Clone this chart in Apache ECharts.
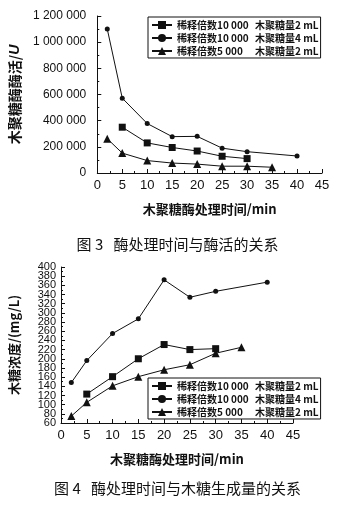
<!DOCTYPE html>
<html>
<head>
<meta charset="utf-8">
<script src="https://cdn.jsdelivr.net/npm/echarts@6/dist/echarts.min.js"></script>
<style>
html,body{margin:0;padding:0;background:#fff;}
#c{width:355px;height:506px;}
</style>
</head>
<body>
<div id="c"></div>
<script>
// ---- Data ----
var seriesNames = ['稀释倍数10 000 木聚糖量2 mL', '稀释倍数10 000 木聚糖量4 mL', '稀释倍数5 000 木聚糖量2 mL'];
var xTicks = [0, 5, 10, 15, 20, 25, 30, 35, 40, 45];

// Figure 3: enzyme activity (U)
var t3Square = [5, 10, 15, 20, 25, 30];
var v3Square = [350000, 230000, 195000, 168000, 128000, 110000];
var t3Circle = [2, 5, 10, 15, 20, 25, 30, 40];
var v3Circle = [1100000, 572000, 378000, 278000, 280000, 190000, 163000, 130000];
var t3Triangle = [2, 5, 10, 15, 20, 25, 30, 35];
var v3Triangle = [262000, 152000, 95000, 76000, 68000, 52000, 52000, 44000];
var y3Ticks = [0, 200000, 400000, 600000, 800000, 1000000, 1200000];

// Figure 4: xylose concentration (mg/L)
var t4Square = [5, 10, 15, 20, 25, 30];
var v4Square = [123, 161, 200, 231, 220, 222];
var t4Circle = [2, 5, 10, 15, 20, 25, 30, 40];
var v4Circle = [148, 196, 255, 287, 372, 334, 347, 367];
var t4Triangle = [2, 5, 10, 15, 20, 25, 30, 35];
var v4Triangle = [75, 105, 141, 161, 176, 187, 212, 225];
var y4Ticks = [60, 80, 100, 120, 140, 160, 180, 200, 220, 240, 260, 280, 300, 320, 340, 360, 380, 400];

function pairs(t, v) { return t.map(function (x, i) { return [x, v[i]]; }); }

var ink = '#111';
var symbols = ['rect', 'circle', 'triangle'];
var sizes = [7, 5, 8];
var y4Min = y4Ticks[0], y4Max = y4Ticks[y4Ticks.length - 1];

function mkSeries(idx, t, v, axisIdx) {
  return {
    type: 'line', name: seriesNames[idx], xAxisIndex: axisIdx, yAxisIndex: axisIdx,
    data: pairs(t, v), symbol: symbols[idx], symbolSize: sizes[idx],
    lineStyle: { color: ink, width: 1 }, itemStyle: { color: ink },
    animation: false, z: 3
  };
}

function fmtSpace(v) { return String(v).replace(/\B(?=(\d{3})+(?!\d))/g, ' '); }

function xAxisCfg(gi, labelSize) {
  return {
    type: 'value', gridIndex: gi, min: xTicks[0], max: xTicks[xTicks.length - 1], interval: 5,
    name: '木聚糖酶处理时间/min', nameLocation: 'middle', nameGap: 30,
    nameTextStyle: { fontFamily: 'Noto Sans CJK SC', fontSize: 13, fontWeight: 'bold', color: ink },
    axisLine: { show: true, lineStyle: { color: ink, width: 1 } },
    axisTick: { show: true, inside: true, length: 4, lineStyle: { color: ink } },
    minorTick: { show: true, splitNumber: 2, length: 2, lineStyle: { color: ink } },
    splitLine: { show: false },
    axisLabel: { fontFamily: 'Liberation Sans', fontSize: labelSize, color: ink, margin: 6,
                 showMinLabel: true, showMaxLabel: true }
  };
}

function legendCfg(top) {
  return {
    orient: 'vertical', left: 148, top: top, width: 168,
    data: seriesNames, selectedMode: false,
    borderColor: ink, borderWidth: 1, padding: [3, 2, 2, 3],
    itemGap: 3, itemWidth: 20, itemHeight: 10,
    textStyle: {
      fontFamily: 'Noto Sans CJK SC', fontSize: 10, fontWeight: 'bold', color: ink,
      rich: {
        a: { width: 78, fontFamily: 'Noto Sans CJK SC', fontSize: 10, fontWeight: 'bold', color: ink },
        b: { fontFamily: 'Noto Sans CJK SC', fontSize: 10, fontWeight: 'bold', color: ink }
      }
    },
    formatter: function (n) {
      var k = n.indexOf(' 木');
      return '{a|' + n.slice(0, k) + '}{b|' + n.slice(k + 1) + '}';
    }
  };
}

var y4LabelStyle = { fontFamily: 'Liberation Sans', fontSize: 11, color: ink, margin: 5 };

var chart = echarts.init(document.getElementById('c'), null, { renderer: 'canvas' });
chart.setOption({
  backgroundColor: '#fff',
  animation: false,
  grid: [
    { left: 93, top: 16, width: 229, height: 157 },
    { left: 61, top: 267, width: 232, height: 156 }
  ],
  xAxis: [xAxisCfg(0, 13), xAxisCfg(1, 13)],
  yAxis: [
    {
      type: 'value', gridIndex: 0, min: y3Ticks[0], max: y3Ticks[y3Ticks.length - 1], interval: 200000,
      name: '木聚糖酶酶活/{i|U}', nameLocation: 'middle', nameGap: 73,
      nameTextStyle: {
        fontFamily: 'Noto Sans CJK SC', fontSize: 14, fontWeight: 'bold', color: ink,
        rich: { i: { fontFamily: 'Liberation Sans', fontStyle: 'italic', fontSize: 14, fontWeight: 'bold', color: ink } }
      },
      axisLine: { show: true, lineStyle: { color: ink, width: 1 } },
      axisTick: { show: true, inside: true, length: 4, lineStyle: { color: ink } },
      minorTick: { show: true, splitNumber: 2, length: 2, lineStyle: { color: ink } },
      splitLine: { show: false },
      axisLabel: { fontFamily: 'Liberation Sans', fontSize: 12, color: ink, margin: 11, formatter: fmtSpace,
                   showMinLabel: true, showMaxLabel: true }
    },
    {
      type: 'value', gridIndex: 1, min: y4Min, max: y4Max, interval: 20, position: 'left',
      name: '木糖浓度/(mg/L)', nameLocation: 'middle', nameGap: 40,
      nameTextStyle: { fontFamily: 'Noto Sans CJK SC', fontSize: 13, fontWeight: 'bold', color: ink },
      axisLine: { show: true, lineStyle: { color: ink, width: 1 } },
      axisTick: { show: true, inside: true, length: 4, lineStyle: { color: ink } },
      minorTick: { show: true, splitNumber: 2, length: 2, lineStyle: { color: ink } },
      splitLine: { show: false },
      axisLabel: Object.assign({ showMinLabel: false, showMaxLabel: false }, y4LabelStyle)
    },
    {
      // overlay axis carrying only the end labels (60 and 400) that ECharts would otherwise drop
      type: 'value', gridIndex: 1, min: y4Min, max: y4Max, interval: 20, position: 'left', offset: 0,
      axisLine: { show: false }, axisTick: { show: false }, splitLine: { show: false },
      axisLabel: Object.assign({
        showMinLabel: true, showMaxLabel: true,
        formatter: function (v) { return (v === y4Min || v === y4Max) ? String(v) : ''; }
      }, y4LabelStyle)
    }
  ],
  legend: [legendCfg(17), legendCfg(378)],
  graphic: [
    { type: 'text', left: 'center', top: 237,
      style: { text: '图 3   酶处理时间与酶活的关系', fontFamily: 'Noto Sans CJK SC', fontSize: 15, fill: ink } },
    { type: 'text', left: 'center', top: 481,
      style: { text: '图 4   酶处理时间与木糖生成量的关系', fontFamily: 'Noto Sans CJK SC', fontSize: 15, fill: ink } }
  ],
  series: [
    mkSeries(0, t3Square, v3Square, 0),
    mkSeries(1, t3Circle, v3Circle, 0),
    mkSeries(2, t3Triangle, v3Triangle, 0),
    mkSeries(0, t4Square, v4Square, 1),
    mkSeries(1, t4Circle, v4Circle, 1),
    mkSeries(2, t4Triangle, v4Triangle, 1)
  ]
});
</script>
</body>
</html>
